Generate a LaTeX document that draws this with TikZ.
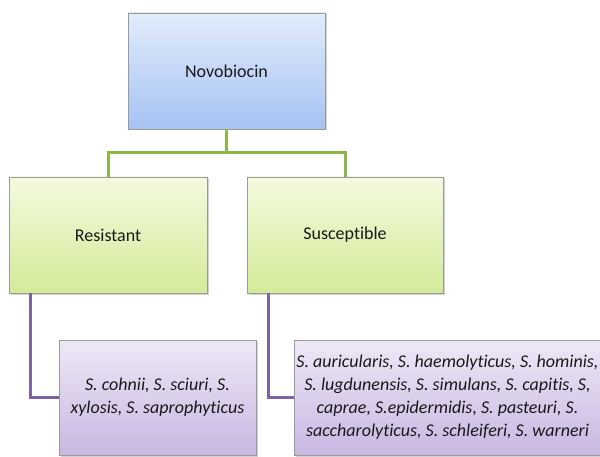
\documentclass[tikz,border=0pt]{standalone}
\usepackage{fontspec}
\setmainfont[Ligatures={NoCommon}]{Carlito}
\usetikzlibrary{shadows}
\definecolor{boxline}{HTML}{9A9A9A}
\definecolor{blueTop}{HTML}{E2ECFC}
\definecolor{blueBot}{HTML}{A6C2F4}
\definecolor{greenTop}{HTML}{F4FADF}
\definecolor{greenBot}{HTML}{D3EB98}
\definecolor{purpleTop}{HTML}{EEE8F6}
\definecolor{purpleBot}{HTML}{C8B7E2}
\definecolor{greenLink}{HTML}{8CB84A}
\definecolor{purpleLink}{HTML}{7D62A6}
\begin{document}
\begin{tikzpicture}[x=1pt, y=-1pt,
                    every node/.style={draw=boxline, line width=0.8pt, rectangle, inner sep=2pt,
                                       align=center, text=black!90, font=\fontsize{18}{21}\selectfont,
                                       drop shadow={shadow xshift=1.5pt, shadow yshift=-1.5pt, opacity=0.35}},
                    topbox/.style={top color=blueTop, bottom color=blueBot},
                    classbox/.style={top color=greenTop, bottom color=greenBot},
                    listbox/.style={top color=purpleTop, bottom color=purpleBot,
                                    font=\fontsize{18}{23}\selectfont\itshape},
                    greenwire/.style={draw=greenLink, line width=3pt},
                    purplewire/.style={draw=purpleLink, line width=3pt}
                    ]
                    \useasboundingbox[fill=white] (0,0) rectangle (600,457);

                    \node[topbox, minimum width=197pt, minimum height=116pt] (novo) at (226.5,71) {Novobiocin};
                    \node[classbox, minimum width=198pt, minimum height=116pt] (res) at (108,235) {Resistant};
                    \node[classbox, minimum width=196pt, minimum height=116pt] (sus) at (345,235) {Susceptible};
                    \node[listbox, minimum width=197pt, minimum height=115pt] (reslist) at (157.5,397.5)
                        {S. cohnii, S. sciuri, S.\\xylosis, S. saprophyticus};
                    \node[listbox, minimum width=301pt, minimum height=115pt] (suslist) at (447.5,397.5)
                        {S. auricularis, S. haemolyticus, S. hominis,\\S. lugdunensis, S. simulans, S. capitis, S,\\caprae, S.epidermidis, S. pasteuri, S.\\saccharolyticus, S. schleiferi, S. warneri};

                    \coordinate (split) at (226.5,153);
                    \foreach \j in {res,sus}{
                        \draw[greenwire] (novo.south) -- (split) -| (\j.north);
                    }
                    \foreach \i/\j in {res/reslist,sus/suslist}{
                        \draw[purplewire] ([xshift=22pt]\i.south west) |- (\j.west);
                    }
                \end{tikzpicture}
\end{document}
